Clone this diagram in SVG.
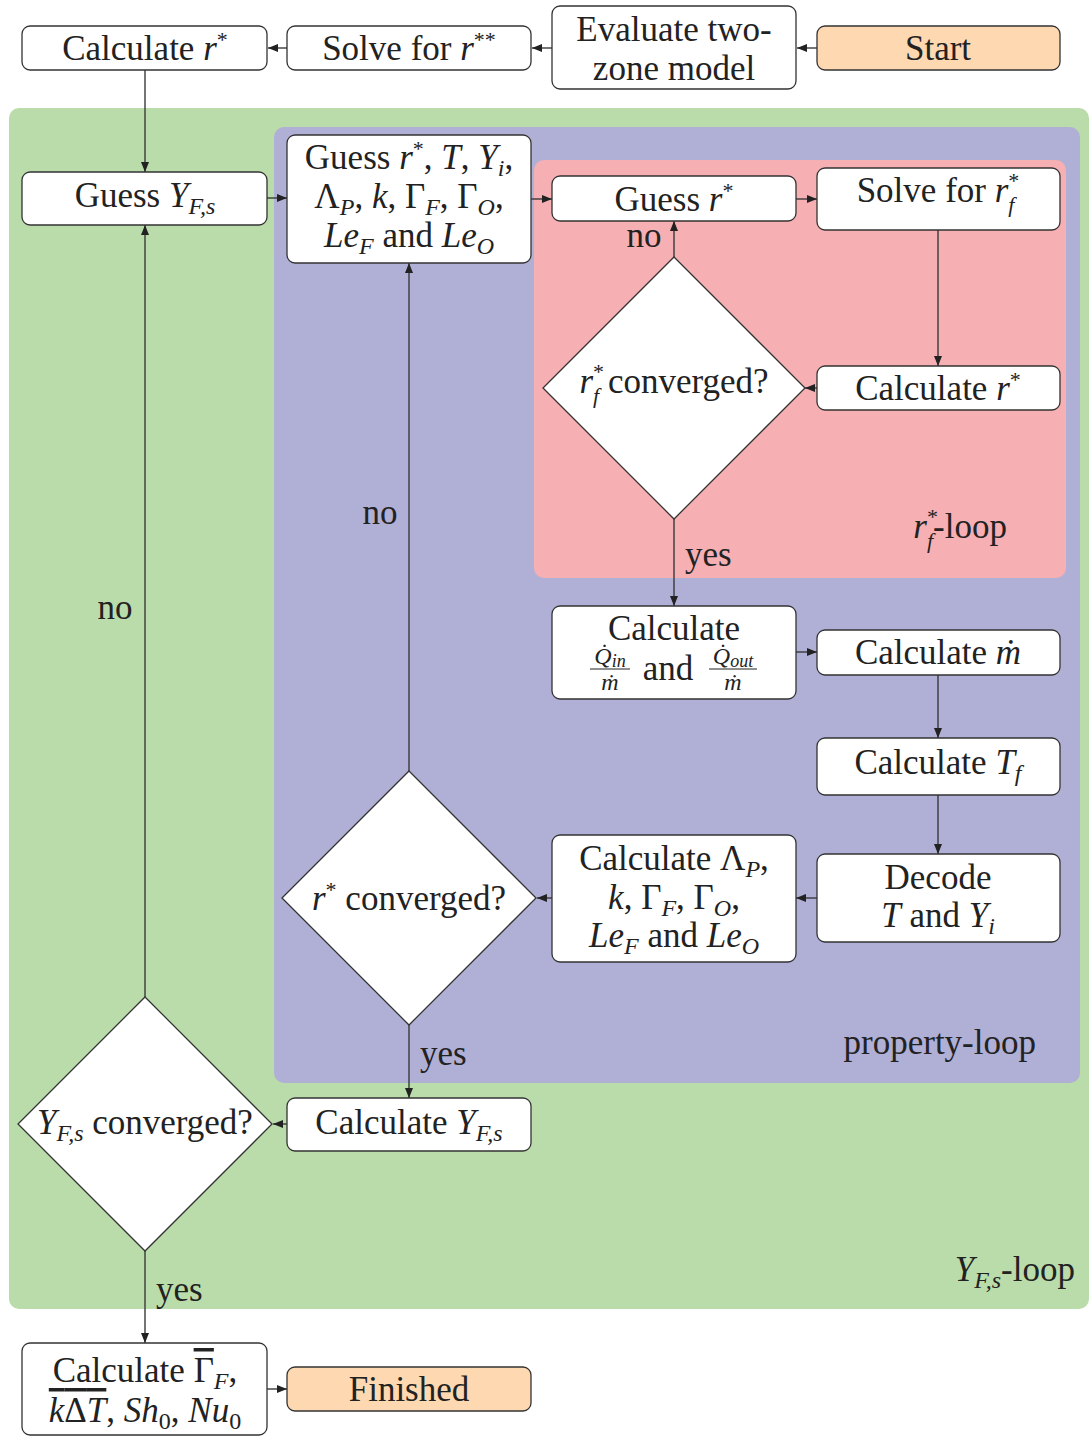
<svg xmlns="http://www.w3.org/2000/svg" width="1090" height="1436" viewBox="0 0 1090 1436">
<style>
.t{font-family:"Liberation Serif","Times New Roman",serif;font-size:35px;fill:#222;text-anchor:middle}
.e{text-anchor:end}
.st{text-anchor:start}
.i{font-style:italic}
.sb{font-size:24px}
.sm{font-size:22px}
.fr{font-size:24px}
.box{fill:#fff;stroke:#333;stroke-width:1.3}
.peach{fill:#fdd8b0;stroke:#333;stroke-width:1.3}
.dia{fill:#fff;stroke:#333;stroke-width:1.3}
.c{fill:none;stroke:#3a3a3a;stroke-width:1.4;marker-end:url(#ah)}
.bar{stroke:#222;stroke-width:1.2}
</style>
<defs>
<marker id="ah" markerWidth="10" markerHeight="8" refX="10" refY="4" orient="auto" markerUnits="userSpaceOnUse">
<path d="M0,0 L10,4 L0,8 z" fill="#222"/>
</marker>
</defs>
<rect width="1090" height="1436" fill="#fff"/>
<g id="regions">
<rect id="yfs-loop" x="9" y="108" width="1080" height="1201" rx="10" fill="#badcaa"/>
<rect id="property-loop" x="274" y="127" width="806" height="956" rx="10" fill="#b0afd6"/>
<rect id="rf-loop" x="534" y="160" width="532" height="418" rx="10" fill="#f6afb2"/>
<text class="t e" x="1007" y="538"><tspan class="i">r</tspan><tspan class="sm" dy="-14">*</tspan><tspan class="sm i" dx="-11" dy="24">f</tspan><tspan dy="-10">-loop</tspan></text>
<text class="t e" x="1036" y="1054">property-loop</text>
<text class="t e" x="1075" y="1281"><tspan class="i">Y</tspan><tspan class="sb i" dy="7">F,s</tspan><tspan dy="-7">-loop</tspan></text>
</g>
<g id="connectors">
<path class="c" d="M817,48 H797"/>
<path class="c" d="M552,48 H532"/>
<path class="c" d="M287,48 H268"/>
<path class="c" d="M145,70 V172"/>
<path class="c" d="M267,198 H287"/>
<path class="c" d="M531,199 H552"/>
<path class="c" d="M796,199 H817"/>
<path class="c" d="M938,230 V366"/>
<path class="c" d="M817,388 H805"/>
<path class="c" d="M674,257 V221"/>
<path class="c" d="M674,519 V606"/>
<path class="c" d="M796,652 H817"/>
<path class="c" d="M938,675 V738"/>
<path class="c" d="M938,795 V854"/>
<path class="c" d="M817,898 H796"/>
<path class="c" d="M552,898 H537"/>
<path class="c" d="M409,771 V263"/>
<path class="c" d="M409,1025 V1098"/>
<path class="c" d="M287,1124 H273"/>
<path class="c" d="M145,998 V225"/>
<path class="c" d="M145,1251 V1343"/>
<path class="c" d="M267,1389 H287"/>
<text class="t" x="644" y="247">no</text>
<text class="t st" x="685" y="566">yes</text>
<text class="t" x="380" y="524">no</text>
<text class="t st" x="420" y="1065">yes</text>
<text class="t" x="115" y="619">no</text>
<text class="t st" x="156" y="1301">yes</text>
</g>
<g id="start">
<rect class="peach" x="817" y="26" width="243" height="44" rx="8"/>
<text class="t" x="938" y="60">Start</text>
</g>
<g id="evaluate">
<rect class="box" x="552" y="6" width="244" height="83" rx="8"/>
<text class="t" x="674" y="41">Evaluate two-</text>
<text class="t" x="674" y="80">zone model</text>
</g>
<g id="solve-rss">
<rect class="box" x="287" y="26" width="244" height="44" rx="8"/>
<text class="t" x="409" y="60">Solve for <tspan class="i">r</tspan><tspan class="sm" dy="-13">**</tspan></text>
</g>
<g id="calc-r-top">
<rect class="box" x="22" y="26" width="245" height="44" rx="8"/>
<text class="t" x="145" y="60">Calculate <tspan class="i">r</tspan><tspan class="sm" dy="-13">*</tspan></text>
</g>
<g id="guess-yfs">
<rect class="box" x="22" y="172" width="245" height="53" rx="8"/>
<text class="t" x="145" y="207">Guess <tspan class="i">Y</tspan><tspan class="sb i" dy="7">F,s</tspan></text>
</g>
<g id="guess-all">
<rect class="box" x="287" y="135" width="244" height="128" rx="8"/>
<text class="t" x="409" y="169">Guess <tspan class="i">r</tspan><tspan class="sm" dy="-13">*</tspan><tspan dy="13">, </tspan><tspan class="i">T</tspan><tspan>, </tspan><tspan class="i">Y</tspan><tspan class="sb i" dy="7">i</tspan><tspan dy="-7">,</tspan></text>
<text class="t" x="409" y="208">Λ<tspan class="sb i" dy="7">P</tspan><tspan dy="-7">, </tspan><tspan class="i">k</tspan><tspan>, Γ</tspan><tspan class="sb i" dy="7">F</tspan><tspan dy="-7">, Γ</tspan><tspan class="sb i" dy="7">O</tspan><tspan dy="-7">,</tspan></text>
<text class="t" x="409" y="247"><tspan class="i">Le</tspan><tspan class="sb i" dy="7">F</tspan><tspan dy="-7"> and </tspan><tspan class="i">Le</tspan><tspan class="sb i" dy="7">O</tspan></text>
</g>
<g id="guess-r">
<rect class="box" x="552" y="176" width="244" height="45" rx="8"/>
<text class="t" x="674" y="211">Guess <tspan class="i">r</tspan><tspan class="sm" dy="-13">*</tspan></text>
</g>
<g id="solve-rf">
<rect class="box" x="817" y="168" width="243" height="62" rx="8"/>
<text class="t" x="938" y="202">Solve for <tspan class="i">r</tspan><tspan class="sm" dy="-14">*</tspan><tspan class="sm i" dx="-11" dy="24">f</tspan></text>
</g>
<g id="calc-r-inner">
<rect class="box" x="817" y="366" width="243" height="44" rx="8"/>
<text class="t" x="938" y="400">Calculate <tspan class="i">r</tspan><tspan class="sm" dy="-13">*</tspan></text>
</g>
<g id="rf-converged">
<polygon class="dia" points="674,257 805,388 674,519 543,388"/>
<text class="t" x="674" y="393"><tspan class="i">r</tspan><tspan class="sm" dy="-14">*</tspan><tspan class="sm i" dx="-11" dy="24">f</tspan><tspan dy="-10"> converged?</tspan></text>
</g>
<g id="calc-q">
<rect class="box" x="552" y="606" width="244" height="93" rx="8"/>
<text class="t" x="674" y="640">Calculate</text>
<text class="t fr" x="610" y="664"><tspan class="i">Q̇</tspan><tspan class="i" font-size="18" dy="3">in</tspan></text>
<line class="bar" x1="590" y1="669" x2="630" y2="669"/>
<text class="t fr i" x="610" y="690">ṁ</text>
<text class="t" x="668" y="680">and</text>
<text class="t fr" x="733" y="664"><tspan class="i">Q̇</tspan><tspan class="i" font-size="18" dy="3">out</tspan></text>
<line class="bar" x1="709" y1="669" x2="757" y2="669"/>
<text class="t fr i" x="733" y="690">ṁ</text>
</g>
<g id="calc-mdot">
<rect class="box" x="817" y="630" width="243" height="45" rx="8"/>
<text class="t" x="938" y="664">Calculate <tspan class="i">ṁ</tspan></text>
</g>
<g id="calc-tf">
<rect class="box" x="817" y="738" width="243" height="57" rx="8"/>
<text class="t" x="938" y="774">Calculate <tspan class="i">T</tspan><tspan class="sb i" dy="7">f</tspan></text>
</g>
<g id="decode">
<rect class="box" x="817" y="854" width="243" height="88" rx="8"/>
<text class="t" x="938" y="889">Decode</text>
<text class="t" x="938" y="927"><tspan class="i">T</tspan><tspan> and </tspan><tspan class="i">Y</tspan><tspan class="sb i" dy="7">i</tspan></text>
</g>
<g id="calc-props">
<rect class="box" x="552" y="835" width="244" height="127" rx="8"/>
<text class="t" x="674" y="870">Calculate Λ<tspan class="sb i" dy="7">P</tspan><tspan dy="-7">,</tspan></text>
<text class="t" x="674" y="909"><tspan class="i">k</tspan><tspan>, Γ</tspan><tspan class="sb i" dy="7">F</tspan><tspan dy="-7">, Γ</tspan><tspan class="sb i" dy="7">O</tspan><tspan dy="-7">,</tspan></text>
<text class="t" x="674" y="947"><tspan class="i">Le</tspan><tspan class="sb i" dy="7">F</tspan><tspan dy="-7"> and </tspan><tspan class="i">Le</tspan><tspan class="sb i" dy="7">O</tspan></text>
</g>
<g id="r-converged">
<polygon class="dia" points="409,771 536,898 409,1025 282,898"/>
<text class="t" x="409" y="910"><tspan class="i">r</tspan><tspan class="sm" dy="-13">*</tspan><tspan dy="13"> converged?</tspan></text>
</g>
<g id="calc-yfs">
<rect class="box" x="287" y="1098" width="244" height="53" rx="8"/>
<text class="t" x="409" y="1134">Calculate <tspan class="i">Y</tspan><tspan class="sb i" dy="7">F,s</tspan></text>
</g>
<g id="yfs-converged">
<polygon class="dia" points="145,997 272,1124 145,1251 18,1124"/>
<text class="t" x="145" y="1134"><tspan class="i">Y</tspan><tspan class="sb i" dy="7">F,s</tspan><tspan dy="-7"> converged?</tspan></text>
</g>
<g id="calc-final">
<rect class="box" x="22" y="1343" width="245" height="92" rx="8"/>
<text class="t" x="145" y="1382">Calculate <tspan text-decoration="overline">Γ</tspan><tspan class="sb i" dy="7">F</tspan><tspan dy="-7">,</tspan></text>
<text class="t" x="145" y="1422"><tspan text-decoration="overline"><tspan class="i">k</tspan><tspan>Δ</tspan><tspan class="i">T</tspan></tspan><tspan>, </tspan><tspan class="i">Sh</tspan><tspan class="sb" dy="7">0</tspan><tspan dy="-7">, </tspan><tspan class="i">Nu</tspan><tspan class="sb" dy="7">0</tspan></text>
</g>
<g id="finished">
<rect class="peach" x="287" y="1367" width="244" height="44" rx="8"/>
<text class="t" x="409" y="1401">Finished</text>
</g>
</svg>
